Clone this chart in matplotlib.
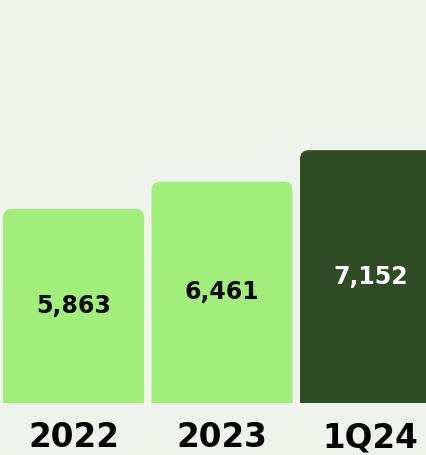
import matplotlib.pyplot as plt
from matplotlib.patches import FancyBboxPatch

categories = ['2022', '2023', '1Q24']
values = [5863, 6461, 7152]
colors = ['#a2ee7a', '#a2ee7a', '#2f4c24']
label_colors = ['#0a0a0a', '#0a0a0a', '#ffffff']

BG = '#eef3ec'
base = 1600

fig = plt.figure(figsize=(4.27, 4.55), dpi=100, facecolor=BG)
ax = fig.add_axes([0, 52 / 455, 1, 403 / 455])
ax.set_facecolor(BG)
ax.set_xlim(-0.495, 2.38)
ax.set_ylim(base, 10450)

bars = ax.bar(range(len(values)), [v - base for v in values], bottom=base,
              width=0.95, color=colors)

# pixels -> data units, so the corner rounding stays circular
fig.canvas.draw()
x_per_px = (ax.get_xlim()[1] - ax.get_xlim()[0]) / ax.bbox.width
y_per_px = (ax.get_ylim()[1] - ax.get_ylim()[0]) / ax.bbox.height
radius = 9 * x_per_px

for bar, color in zip(bars, colors):
    x, w, top = bar.get_x(), bar.get_width(), bar.get_y() + bar.get_height()
    bar.remove()
    bottom = base - 40 * y_per_px  # push rounded bottom corners out of view
    patch = FancyBboxPatch((x, bottom), w, top - bottom,
                           boxstyle=f'round,pad=0,rounding_size={radius}',
                           mutation_aspect=y_per_px / x_per_px,
                           facecolor=color, edgecolor='none')
    ax.add_patch(patch)

for i, v in enumerate(values):
    ax.text(i, (v + base) / 2, f'{v:,}', ha='center', va='center',
            fontsize=17, fontweight='bold', family='DejaVu Sans',
            color=label_colors[i])

ax.set_xticks(range(len(categories)))
ax.set_xticklabels(categories, fontsize=23.5, fontweight='bold',
                   family='DejaVu Sans')
ax.tick_params(axis='x', length=0, pad=13)
ax.set_yticks([])
for s in ax.spines.values():
    s.set_visible(False)

fig.savefig('out.png', dpi=100, facecolor=BG)
